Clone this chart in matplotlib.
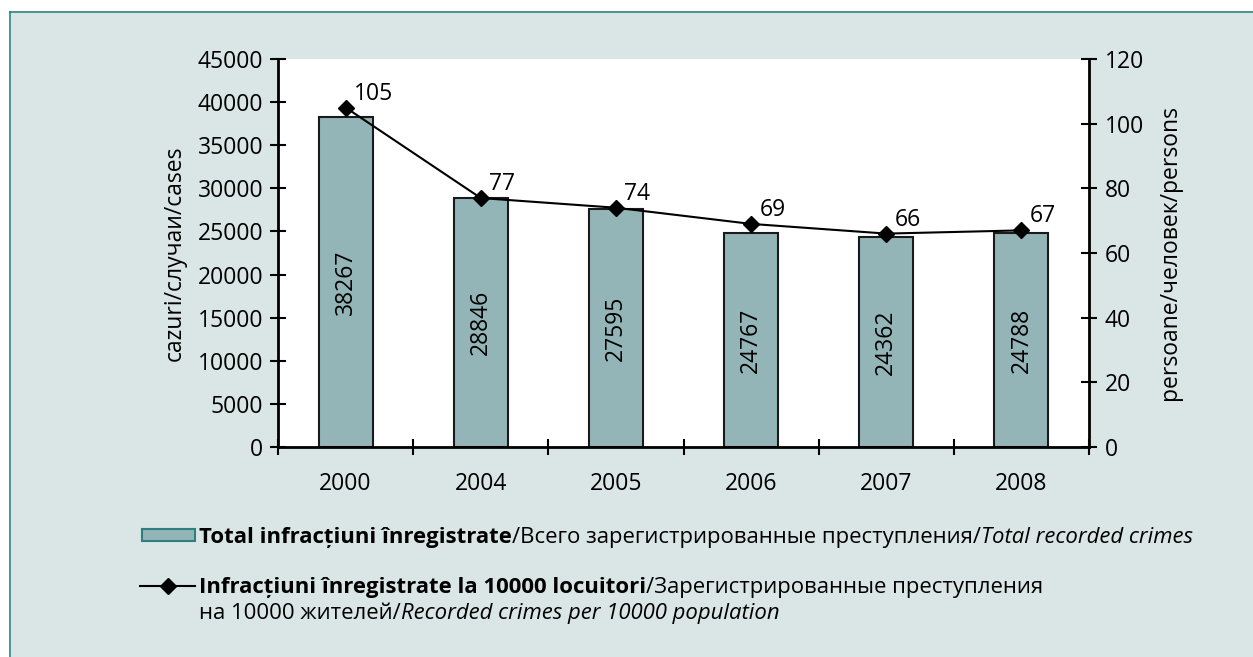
import matplotlib.pyplot as plt
from matplotlib.patches import Rectangle
from matplotlib.lines import Line2D

# date
ani = ['2000', '2004', '2005', '2006', '2007', '2008']
total_infractiuni = [38267, 28846, 27595, 24767, 24362, 24788]
la_10000 = [105, 77, 74, 69, 66, 67]

font = ['Open Sans', 'DejaVu Sans']
plt.rcParams['font.family'] = font
fs = 16.5
fs_leg = 15.9

W, H = 1253, 657
fig = plt.figure(figsize=(W / 100, H / 100), dpi=100)
fig.patch.set_facecolor('white')

# fundalul panoului, cu chenar sus si in stanga
fig.patches.append(Rectangle((10 / W, 0), 1 - 10 / W, 1 - 12 / H, transform=fig.transFigure,
                             facecolor='#dae5e5', edgecolor='none', zorder=-10))
fig.add_artist(Line2D([10 / W, 1], [1 - 12 / H, 1 - 12 / H], color='#2e8484', lw=1.2))
fig.add_artist(Line2D([10 / W, 10 / W], [0, 1 - 12 / H], color='#2e8484', lw=1.2))

ax = fig.add_axes([278 / W, 1 - 447 / H, (1089 - 278) / W, (447 - 59) / H])
ax.set_facecolor('white')
x = list(range(len(ani)))
ax.bar(x, total_infractiuni, width=0.4, color='#94b5b8', edgecolor='#1a1a1a', linewidth=1.5, zorder=2)
for xi, v in zip(x, total_infractiuni):
    ax.text(xi, v / 2, str(v), rotation=90, ha='center', va='center', fontsize=fs, zorder=3)

ax.set_xlim(-0.5, len(ani) - 0.5)
ax.set_ylim(0, 45000)
ax.set_yticks(range(0, 45001, 5000))
ax.set_xticks(x)
ax.set_xticklabels(ani)
ax.set_xticks([i - 0.5 for i in range(len(ani) + 1)], minor=True)
ax.tick_params(axis='x', which='major', length=0, pad=18, labelsize=fs)
ax.tick_params(axis='x', which='minor', length=11, width=1.5, direction='inout')
ax.tick_params(axis='y', length=11, width=1.5, direction='inout', labelsize=fs, pad=5)
ax.set_ylabel('cazuri/случаи/cases', fontsize=fs, labelpad=8)
for s in ['left', 'bottom']:
    ax.spines[s].set_linewidth(2)
ax.spines['top'].set_visible(False)
ax.spines['right'].set_visible(False)

ax2 = ax.twinx()
ax2.plot(x, la_10000, color='black', lw=1.5, marker='D', markersize=8, zorder=4)
for xi, v in zip(x, la_10000):
    ax2.annotate(str(v), (xi, v), xytext=(6, 10), textcoords='offset points',
                 ha='left', va='center', fontsize=fs)
ax2.set_ylim(0, 120)
ax2.set_yticks(range(0, 121, 20))
ax2.tick_params(axis='y', length=11, width=1.5, direction='inout', labelsize=fs, pad=6)
ax2.set_ylabel('persoane/человек/persons', fontsize=fs, labelpad=10)
ax2.spines['right'].set_linewidth(2)
for s in ['top', 'left', 'bottom']:
    ax2.spines[s].set_visible(False)

# legenda desenata manual
fig.patches.append(Rectangle((142 / W, 1 - 541 / H), 53 / W, 12 / H, transform=fig.transFigure,
                             facecolor='#94b5b8', edgecolor='#2e7f7f', lw=1.5))
fig.add_artist(Line2D([140 / W, 195 / W], [1 - 586 / H, 1 - 586 / H], color='black', lw=1.5))
fig.add_artist(Line2D([168 / W], [1 - 586 / H], color='black', marker='D', markersize=8))


def scrie(bucati, x0, y0):
    # bucati de text legate una dupa alta (bold / normal / italic)
    prev = fig.text(x0 / W, 1 - y0 / H, bucati[0][0], fontsize=fs_leg, fontweight=bucati[0][1],
                    fontstyle=bucati[0][2], va='bottom', ha='left')
    for txt, w, st in bucati[1:]:
        prev = ax.annotate(txt, xy=(1, 0), xycoords=prev, va='bottom', ha='left',
                           fontsize=fs_leg, fontweight=w, fontstyle=st, annotation_clip=False)


scrie([('Total infracțiuni înregistrate', 'bold', 'normal'),
       ('/Всего зарегистрированные преступления/', 'normal', 'normal'),
       ('Total recorded crimes', 'normal', 'italic')], 199, 548)
scrie([('Infracțiuni înregistrate la 10000 locuitori', 'bold', 'normal'),
       ('/Зарегистрированные преступления', 'normal', 'normal')], 199, 598)
scrie([('на 10000 жителей/', 'normal', 'normal'),
       ('Recorded crimes per 10000 population', 'normal', 'italic')], 199, 624)

fig.savefig('out.png', dpi=100)
